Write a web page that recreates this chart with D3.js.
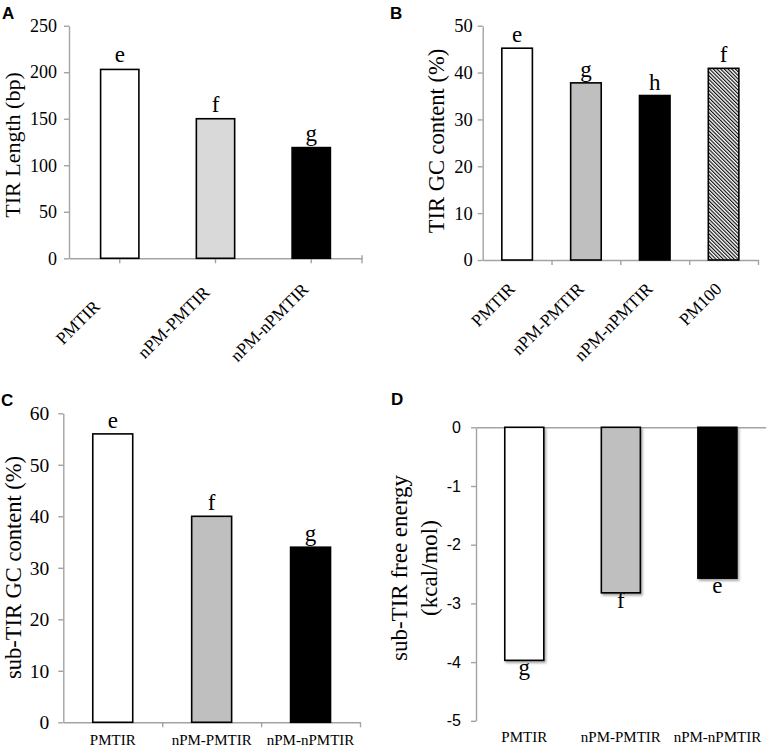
<!DOCTYPE html>
<html>
<head>
<meta charset="utf-8">
<script src="https://cdn.jsdelivr.net/npm/d3@7"></script>
<style>
  html, body { margin: 0; padding: 0; background: #fff; }
  svg { display: block; }
</style>
</head>
<body>
<svg id="chart" width="768" height="747"></svg>
<script>
// ---------- DATA ----------
const categories3 = ["PMTIR", "nPM-PMTIR", "nPM-nPMTIR"];
const categories4 = ["PMTIR", "nPM-PMTIR", "nPM-nPMTIR", "PM100"];

const tirLength = [203, 150, 119];
const tirLengthLetters = ["e", "f", "g"];
const tirLengthTicks = [0, 50, 100, 150, 200, 250];

const tirGC = [45.2, 37.8, 35.1, 40.9];
const tirGCLetters = ["e", "g", "h", "f"];
const tirGCTicks = [0, 10, 20, 30, 40, 50];

const subGC = [56, 40, 34];
const subGCLetters = ["e", "f", "g"];
const subGCTicks = [0, 10, 20, 30, 40, 50, 60];

const subEnergy = [-3.97, -2.82, -2.57];
const subEnergyLetters = ["g", "f", "e"];
const subEnergyTicks = [-5, -4, -3, -2, -1, 0];

const fillsA = ["#ffffff", "#d9d9d9", "#000000"];
const fillsB = ["#ffffff", "#bfbfbf", "#000000", "url(#hatch)"];
const fillsCD = ["#ffffff", "#bfbfbf", "#000000"];

// ---------- SETUP ----------
const svg = d3.select("#chart");
const SERIF = "'Liberation Serif', 'Times New Roman', serif";
const SANS = "'Liberation Sans', Arial, sans-serif";
const AXIS_COLOR = "#a3a3a3";

const defs = svg.append("defs");
defs.append("pattern")
  .attr("id", "hatch")
  .attr("patternUnits", "userSpaceOnUse")
  .attr("width", 2.6).attr("height", 2.6)
  .attr("patternTransform", "rotate(-45)")
  .call(p => {
    p.append("rect").attr("width", 2.6).attr("height", 2.6).attr("fill", "#fff");
    p.append("line").attr("x1", 0.6).attr("y1", 0).attr("x2", 0.6).attr("y2", 2.6)
      .attr("stroke", "#000").attr("stroke-width", 1.1);
  });
const shadow = defs.append("filter").attr("id", "shadow")
  .attr("x", "-20%").attr("y", "-20%").attr("width", "140%").attr("height", "140%");
shadow.append("feDropShadow").attr("dx", 1.5).attr("dy", 2).attr("stdDeviation", 1.2)
  .attr("flood-color", "#000").attr("flood-opacity", 0.35);

function styleAxis(g) {
  g.select(".domain").attr("stroke", AXIS_COLOR).attr("stroke-width", 1.4);
  g.selectAll(".tick line").attr("stroke", AXIS_COLOR).attr("stroke-width", 1.4);
}

function panelLetter(txt, x, y) {
  svg.append("text").attr("x", x).attr("y", y)
    .attr("font-family", SANS).attr("font-weight", "bold").attr("font-size", 17)
    .attr("fill", "#000").text(txt);
}

function yTitle(lines, x, yc, size, lineGap) {
  const t = svg.append("text")
    .attr("transform", `translate(${x},${yc}) rotate(-90)`)
    .attr("text-anchor", "middle")
    .attr("font-family", SERIF).attr("font-size", size).attr("fill", "#000");
  lines.forEach((l, i) => t.append("tspan").attr("x", 0).attr("y", i * lineGap).text(l));
}

// ---------- PANEL A ----------
(function () {
  const x = d3.scaleBand().domain(categories3).range([69, 362]).paddingInner(0.6).paddingOuter(0.33);
  const y = d3.scaleLinear().domain([0, 250]).range([258.3, 25.7]);
  const g = svg.append("g");

  g.append("g").attr("transform", `translate(${x.range()[0]},0)`)
    .call(d3.axisLeft(y).tickValues(tirLengthTicks).tickSize(5).tickSizeOuter(0).tickPadding(7))
    .call(styleAxis)
    .call(a => a.selectAll("text").attr("font-family", SERIF).attr("font-size", 18).attr("fill", "#000"));

  const xa = g.append("g").attr("transform", `translate(0,${y(0)})`)
    .call(d3.axisBottom(x).tickSize(5).tickSizeOuter(0).tickFormat(""))
    .call(styleAxis);
  xa.append("line").attr("x1", x.range()[1]).attr("x2", x.range()[1]).attr("y1", -3).attr("y2", 5)
    .attr("stroke", AXIS_COLOR).attr("stroke-width", 1.4);

  g.selectAll("rect.bar").data(tirLength).join("rect").attr("class", "bar")
    .attr("x", (d, i) => x(categories3[i])).attr("width", x.bandwidth())
    .attr("y", d => y(d)).attr("height", d => y(0) - y(d))
    .attr("fill", (d, i) => fillsA[i]).attr("stroke", "#000").attr("stroke-width", 1.6);

  g.selectAll("text.sig").data(tirLength).join("text").attr("class", "sig")
    .attr("x", (d, i) => x(categories3[i]) + x.bandwidth() / 2).attr("y", d => y(d) - 7)
    .attr("text-anchor", "middle").attr("font-family", SERIF).attr("font-size", 23)
    .text((d, i) => tirLengthLetters[i]);

  g.selectAll("text.cat").data(categories3).join("text").attr("class", "cat")
    .attr("transform", d => `translate(${x(d) + x.bandwidth() / 2 - 42},${y(0) + 64}) rotate(-45)`)
    .attr("text-anchor", "middle").attr("dominant-baseline", "central")
    .attr("font-family", SERIF).attr("font-size", 17.5).text(d => d);

  yTitle(["TIR Length (bp)"], 19.5, 145, 22, 0);
  panelLetter("A", 2, 18.5);
})();

// ---------- PANEL B ----------
(function () {
  const x = d3.scaleBand().domain(categories4).range([482.7, 758]).paddingInner(0.556).paddingOuter(0.278);
  const y = d3.scaleLinear().domain([0, 50]).range([260, 25.7]);
  const bounds = d3.scaleLinear().domain([0, categories4.length]).range(x.range());
  const g = svg.append("g");

  g.append("g").attr("transform", `translate(${x.range()[0]},0)`)
    .call(d3.axisLeft(y).tickValues(tirGCTicks).tickSize(5).tickSizeOuter(0).tickPadding(5))
    .call(styleAxis)
    .call(a => a.selectAll("text").attr("font-family", SERIF).attr("font-size", 18.5).attr("fill", "#000"));

  g.append("g").attr("transform", `translate(0,${y(0)})`)
    .call(d3.axisBottom(bounds).tickValues(d3.range(1, categories4.length + 1)).tickSize(5).tickSizeOuter(0).tickFormat(""))
    .call(styleAxis);

  g.selectAll("rect.bar").data(tirGC).join("rect").attr("class", "bar")
    .attr("x", (d, i) => x(categories4[i])).attr("width", x.bandwidth())
    .attr("y", d => y(d)).attr("height", d => y(0) - y(d))
    .attr("fill", (d, i) => fillsB[i]).attr("stroke", "#000").attr("stroke-width", 1.6);

  g.selectAll("text.sig").data(tirGC).join("text").attr("class", "sig")
    .attr("x", (d, i) => x(categories4[i]) + x.bandwidth() / 2).attr("y", d => y(d) - 6)
    .attr("text-anchor", "middle").attr("font-family", SERIF).attr("font-size", 23)
    .text((d, i) => tirGCLetters[i]);

  g.selectAll("text.cat").data(categories4).join("text").attr("class", "cat")
    .attr("transform", d => `translate(${x(d) + x.bandwidth() / 2 - 1},${y(0) + 30}) rotate(-45)`)
    .attr("text-anchor", "end")
    .attr("font-family", SERIF).attr("font-size", 17.5).text(d => d);

  yTitle(["TIR GC content (%)"], 444, 141, 22.5, 0);
  panelLetter("B", 390, 18.5);
})();

// ---------- PANEL C ----------
(function () {
  const x = d3.scaleBand().domain(categories3).range([63.3, 360]).paddingInner(0.596).paddingOuter(0.298);
  const y = d3.scaleLinear().domain([0, 60]).range([722.3, 413.3]);
  const bounds = d3.scaleLinear().domain([0, categories3.length]).range(x.range());
  const g = svg.append("g");

  g.append("g").attr("transform", `translate(${x.range()[0]},0)`)
    .call(d3.axisLeft(y).tickValues(subGCTicks).tickSize(5).tickSizeOuter(0).tickPadding(9))
    .call(styleAxis)
    .call(a => a.selectAll("text").attr("font-family", SERIF).attr("font-size", 19.5).attr("fill", "#000"));

  g.append("g").attr("transform", `translate(0,${y(0)})`)
    .call(d3.axisBottom(bounds).tickValues(d3.range(1, categories3.length + 1)).tickSize(5).tickSizeOuter(0).tickFormat(""))
    .call(styleAxis);

  g.selectAll("rect.bar").data(subGC).join("rect").attr("class", "bar")
    .attr("x", (d, i) => x(categories3[i])).attr("width", x.bandwidth())
    .attr("y", d => y(d)).attr("height", d => y(0) - y(d))
    .attr("fill", (d, i) => fillsCD[i]).attr("stroke", "#000").attr("stroke-width", 1.6);

  g.selectAll("text.sig").data(subGC).join("text").attr("class", "sig")
    .attr("x", (d, i) => x(categories3[i]) + x.bandwidth() / 2).attr("y", d => y(d) - 6)
    .attr("text-anchor", "middle").attr("font-family", SERIF).attr("font-size", 23)
    .text((d, i) => subGCLetters[i]);

  g.selectAll("text.cat").data(categories3).join("text").attr("class", "cat")
    .attr("x", d => x(d) + x.bandwidth() / 2).attr("y", y(0) + 22.5)
    .attr("text-anchor", "middle")
    .attr("font-family", SERIF).attr("font-size", 15).text(d => d);

  yTitle(["sub-TIR GC content (%)"], 21, 567.5, 22.5, 0);
  panelLetter("C", 1, 406);
})();

// ---------- PANEL D ----------
(function () {
  const x = d3.scaleBand().domain(categories3).range([476, 765.7]).paddingInner(0.596).paddingOuter(0.298);
  const y = d3.scaleLinear().domain([-5, 0]).range([720.8, 427.3]);
  const g = svg.append("g");

  g.append("g").attr("transform", `translate(${x.range()[0]},0)`)
    .call(d3.axisLeft(y).tickValues(subEnergyTicks).tickSize(5).tickSizeOuter(0).tickPadding(10)
      .tickFormat(d => String(d)))
    .call(styleAxis)
    .call(a => a.selectAll("text").attr("font-family", SANS).attr("font-size", 16).attr("fill", "#000"));

  g.append("g").attr("transform", `translate(0,${y(0)})`)
    .call(d3.axisTop(x).tickSize(0).tickSizeOuter(0).tickFormat(""))
    .call(styleAxis);

  g.selectAll("rect.bar").data(subEnergy).join("rect").attr("class", "bar")
    .attr("x", (d, i) => x(categories3[i])).attr("width", x.bandwidth())
    .attr("y", y(0)).attr("height", d => y(d) - y(0))
    .attr("fill", (d, i) => fillsCD[i]).attr("stroke", "#000").attr("stroke-width", 1.6)
    .attr("filter", "url(#shadow)");

  g.selectAll("text.sig").data(subEnergy).join("text").attr("class", "sig")
    .attr("x", (d, i) => x(categories3[i]) + x.bandwidth() / 2).attr("y", d => y(d) + 15)
    .attr("text-anchor", "middle").attr("font-family", SERIF).attr("font-size", 23)
    .text((d, i) => subEnergyLetters[i]);

  g.selectAll("text.cat").data(categories3).join("text").attr("class", "cat")
    .attr("x", d => x(d) + x.bandwidth() / 2).attr("y", 741.5)
    .attr("text-anchor", "middle")
    .attr("font-family", SERIF).attr("font-size", 15).text(d => d);

  yTitle(["sub-TIR free energy", "(kcal/mol)"], 406.5, 568, 23, 30);
  panelLetter("D", 391, 405);
})();
</script>
</body>
</html>
